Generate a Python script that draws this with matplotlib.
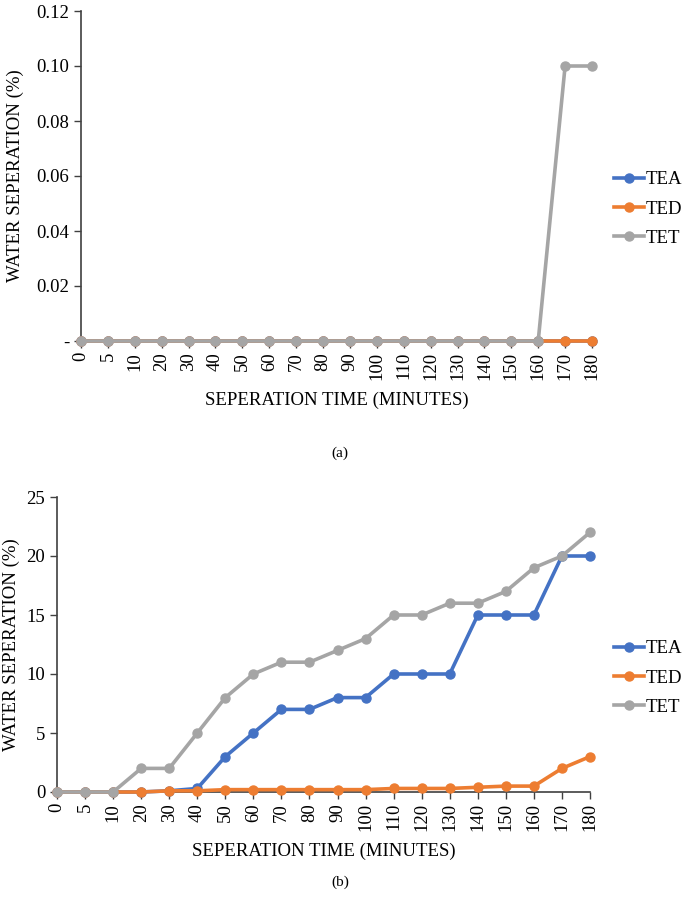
import numpy as np
import matplotlib
matplotlib.use("Agg")
import matplotlib.pyplot as plt

plt.rcParams['font.family'] = ['Liberation Serif', 'DejaVu Serif']

# Categorias do eixo x (tempo de separação, minutos)
times = ['0', '5', '10', '20', '30', '40', '50', '60', '70', '80', '90',
         '100', '110', '120', '130', '140', '150', '160', '170', '180']

# Painel (a)
tea_a = [0] * 20
ted_a = [0] * 20
tet_a = [0] * 18 + [0.1, 0.1]

# Painel (b)
tea_b = [0, 0, 0, 0, 0.1, 0.3, 3, 5, 7, 7, 8, 8, 10, 10, 10, 15, 15, 15, 20, 20]
ted_b = [0, 0, 0, 0, 0.1, 0.1, 0.2, 0.2, 0.2, 0.2, 0.2, 0.2, 0.3, 0.3, 0.3, 0.4, 0.5, 0.5, 2, 3]
tet_b = [0, 0, 0, 2, 2, 5, 8, 10, 11, 11, 12, 13, 15, 15, 16, 16, 17, 19, 20, 22]

yticks_a = [0, 0.02, 0.04, 0.06, 0.08, 0.10, 0.12]
ylabels_a = ['-', '0.02', '0.04', '0.06', '0.08', '0.10', '0.12']
yticks_b = [0, 5, 10, 15, 20, 25]

colors = {'TEA': '#4472C4', 'TED': '#ED7D31', 'TET': '#A5A5A5'}
W, H = 685, 898
fs = 13.5

fig = plt.figure(figsize=(W / 100, H / 100), dpi=100)


def painel(ax, series, yticks, ylabels, ymax, leg_x, leg_y):
    x = np.arange(len(times))
    for nome, vals in series:
        ax.plot(x, vals, color=colors[nome], lw=2.6, marker='o', ms=6.5,
                label=nome, clip_on=False, zorder=3)
    ax.set_xlim(0, len(times) - 1)
    ax.set_ylim(0, ymax)
    ax.set_xticks(x)
    ax.set_xticklabels(times, rotation=90, fontsize=fs)
    ax.set_yticks(yticks)
    ax.set_yticklabels(ylabels, fontsize=fs)
    for s in ['top', 'right']:
        ax.spines[s].set_visible(False)
    for s in ['left', 'bottom']:
        ax.spines[s].set_color('#404040')
        ax.spines[s].set_linewidth(1.2)
    ax.tick_params(axis='both', direction='out', length=5, color='#404040', width=1)
    ax.tick_params(axis='x', pad=3)
    ax.set_xlabel('SEPERATION TIME (MINUTES)', fontsize=fs, labelpad=8)
    ax.set_ylabel('WATER SEPERATION (%)', fontsize=fs)
    ax.legend(loc='center left', bbox_to_anchor=(leg_x, leg_y), frameon=False,
              fontsize=fs, handlelength=1.6, handletextpad=0.1, labelspacing=0.65,
              borderpad=0, borderaxespad=0)


ax1 = fig.add_axes([81 / W, 1 - 341 / H, (592 - 81) / W, 330 / H])
painel(ax1, [('TEA', tea_a), ('TED', ted_a), ('TET', tet_a)],
       yticks_a, ylabels_a, 0.12, (614 - 81) / 511, 0.40)
ax1.yaxis.set_label_coords(-0.112, 0.5)

ax2 = fig.add_axes([57 / W, 1 - 792 / H, (590 - 57) / W, 295 / H])
painel(ax2, [('TEA', tea_b), ('TED', ted_b), ('TET', tet_b)],
       yticks_b, [str(v) for v in yticks_b], 25, (614 - 57) / 533, 0.386)
ax2.yaxis.set_label_coords(-0.07, 0.5)

fig.text(340 / W, 1 - 453 / H, '(a)', ha='center', va='center', fontsize=11)
fig.text(340 / W, 1 - 882 / H, '(b)', ha='center', va='center', fontsize=11)

fig.savefig('out.png', dpi=100)
